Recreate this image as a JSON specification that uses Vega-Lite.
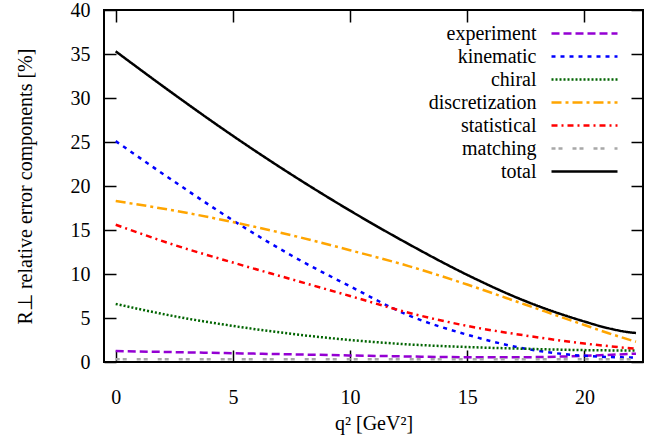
{
  "$schema": "https://vega.github.io/schema/vega-lite/v6.json",
  "width": 539,
  "height": 352,
  "autosize": "none",
  "padding": {"left": 104, "top": 10, "right": 29, "bottom": 83},
  "background": "white",
  "config": {
    "view": {"stroke": "black", "strokeWidth": 2},
    "font": "Liberation Serif",
    "axis": {
      "domain": false, "grid": false,
      "labelFont": "Liberation Serif", "labelFontSize": 20, "labelColor": "black",
      "titleFont": "Liberation Serif", "titleFontSize": 20, "titleFontWeight": "normal", "titleColor": "black",
      "tickColor": "black", "tickWidth": 1.5, "tickSize": -12
    },
    "legend": {
      "symbolType": "M-3,0L3,0", "symbolSize": 484, "symbolStrokeWidth": 2.5,
      "labelAlign": "right", "labelOffset": -60.5, "labelFont": "Liberation Serif",
      "labelFontSize": 20, "labelColor": "black", "rowPadding": 0, "padding": 0, "labelLimit": 500
    }
  },
  "data": {"values": [
    {"q2": 0, "err": 1.25, "component": "experiment"},
    {"q2": 2.5, "err": 1.12, "component": "experiment"},
    {"q2": 5, "err": 1.0, "component": "experiment"},
    {"q2": 7.5, "err": 0.87, "component": "experiment"},
    {"q2": 10, "err": 0.75, "component": "experiment"},
    {"q2": 12.5, "err": 0.63, "component": "experiment"},
    {"q2": 15, "err": 0.55, "component": "experiment"},
    {"q2": 17.5, "err": 0.55, "component": "experiment"},
    {"q2": 20, "err": 0.7, "component": "experiment"},
    {"q2": 22.2, "err": 0.95, "component": "experiment"},
    {"q2": 0, "err": 25.1, "component": "kinematic"},
    {"q2": 2.5, "err": 20.5, "component": "kinematic"},
    {"q2": 5, "err": 16.1, "component": "kinematic"},
    {"q2": 7.5, "err": 12.1, "component": "kinematic"},
    {"q2": 10, "err": 8.6, "component": "kinematic"},
    {"q2": 12.5, "err": 5.3, "component": "kinematic"},
    {"q2": 15, "err": 3.1, "component": "kinematic"},
    {"q2": 17.5, "err": 1.5, "component": "kinematic"},
    {"q2": 20, "err": 0.7, "component": "kinematic"},
    {"q2": 22.2, "err": 0.5, "component": "kinematic"},
    {"q2": 0, "err": 6.6, "component": "chiral"},
    {"q2": 2.5, "err": 5.2, "component": "chiral"},
    {"q2": 5, "err": 4.1, "component": "chiral"},
    {"q2": 7.5, "err": 3.2, "component": "chiral"},
    {"q2": 10, "err": 2.5, "component": "chiral"},
    {"q2": 12.5, "err": 2.0, "component": "chiral"},
    {"q2": 15, "err": 1.7, "component": "chiral"},
    {"q2": 17.5, "err": 1.5, "component": "chiral"},
    {"q2": 20, "err": 1.35, "component": "chiral"},
    {"q2": 22.2, "err": 1.3, "component": "chiral"},
    {"q2": 0, "err": 18.3, "component": "discretization"},
    {"q2": 2.5, "err": 17.2, "component": "discretization"},
    {"q2": 5, "err": 15.9, "component": "discretization"},
    {"q2": 7.5, "err": 14.4, "component": "discretization"},
    {"q2": 10, "err": 12.7, "component": "discretization"},
    {"q2": 12.5, "err": 10.9, "component": "discretization"},
    {"q2": 15, "err": 8.8, "component": "discretization"},
    {"q2": 17.5, "err": 6.5, "component": "discretization"},
    {"q2": 20, "err": 4.2, "component": "discretization"},
    {"q2": 21, "err": 3.3, "component": "discretization"},
    {"q2": 22.2, "err": 2.3, "component": "discretization"},
    {"q2": 0, "err": 15.6, "component": "statistical"},
    {"q2": 2.5, "err": 13.3, "component": "statistical"},
    {"q2": 5, "err": 11.3, "component": "statistical"},
    {"q2": 7.5, "err": 9.4, "component": "statistical"},
    {"q2": 10, "err": 7.5, "component": "statistical"},
    {"q2": 12.5, "err": 5.6, "component": "statistical"},
    {"q2": 15, "err": 4.1, "component": "statistical"},
    {"q2": 17.5, "err": 3.0, "component": "statistical"},
    {"q2": 20, "err": 2.1, "component": "statistical"},
    {"q2": 22.2, "err": 1.5, "component": "statistical"},
    {"q2": 0, "err": 0.3, "component": "matching"},
    {"q2": 5, "err": 0.3, "component": "matching"},
    {"q2": 10, "err": 0.3, "component": "matching"},
    {"q2": 15, "err": 0.3, "component": "matching"},
    {"q2": 20, "err": 0.3, "component": "matching"},
    {"q2": 22.2, "err": 0.3, "component": "matching"},
    {"q2": 0, "err": 35.3, "component": "total"},
    {"q2": 2.5, "err": 30.4, "component": "total"},
    {"q2": 5, "err": 25.7, "component": "total"},
    {"q2": 7.5, "err": 21.3, "component": "total"},
    {"q2": 10, "err": 17.2, "component": "total"},
    {"q2": 12.5, "err": 13.4, "component": "total"},
    {"q2": 15, "err": 9.9, "component": "total"},
    {"q2": 17.5, "err": 6.9, "component": "total"},
    {"q2": 20, "err": 4.6, "component": "total"},
    {"q2": 21, "err": 3.85, "component": "total"},
    {"q2": 22, "err": 3.35, "component": "total"},
    {"q2": 22.2, "err": 3.3, "component": "total"}
  ]},
  "layer": [
    {
      "mark": {"type": "line", "strokeWidth": 2.5, "interpolate": "monotone", "clip": true},
      "encoding": {
        "x": {"field": "q2", "type": "quantitative",
              "scale": {"domain": [-0.5, 22.5], "nice": false, "zero": false},
              "axis": {"values": [0, 5, 10, 15, 20], "title": "q² [GeV²]", "labelPadding": 37, "titlePadding": 6}},
        "y": {"field": "err", "type": "quantitative",
              "scale": {"domain": [0, 40], "nice": false},
              "axis": {"values": [0, 5, 10, 15, 20, 25, 30, 35, 40], "title": "R⊥ relative error components [%]", "labelPadding": 26, "titlePadding": 35}},
        "color": {"field": "component", "type": "nominal",
                  "scale": {"domain": ["experiment", "kinematic", "chiral", "discretization", "statistical", "matching", "total"],
                            "range": ["#9400d3", "#0000ff", "#006400", "#ffa500", "#ff0000", "#a8a8a8", "#000000"]},
                  "legend": {"title": null, "orient": "none", "legendX": 468, "legendY": 11}},
        "strokeDash": {"field": "component", "type": "nominal",
                  "scale": {"domain": ["experiment", "kinematic", "chiral", "discretization", "statistical", "matching", "total"],
                            "range": [[8, 4], [4, 5], [2, 2], [10, 4, 3, 4], [6, 4, 2, 4], [4, 3, 4, 10], [1, 0]]},
                  "legend": {"title": null, "orient": "none", "legendX": 468, "legendY": 11}}
      }
    },
    {
      "mark": {"type": "line", "strokeOpacity": 0},
      "encoding": {
        "x": {"field": "q2", "type": "quantitative",
              "axis": {"orient": "top", "values": [0, 5, 10, 15, 20], "labels": false, "title": null}},
        "y": {"field": "err", "type": "quantitative",
              "axis": {"orient": "right", "values": [0, 5, 10, 15, 20, 25, 30, 35, 40], "labels": false, "title": null}},
        "detail": {"field": "component"}
      }
    }
  ],
  "resolve": {"axis": {"x": "independent", "y": "independent"}}
}
